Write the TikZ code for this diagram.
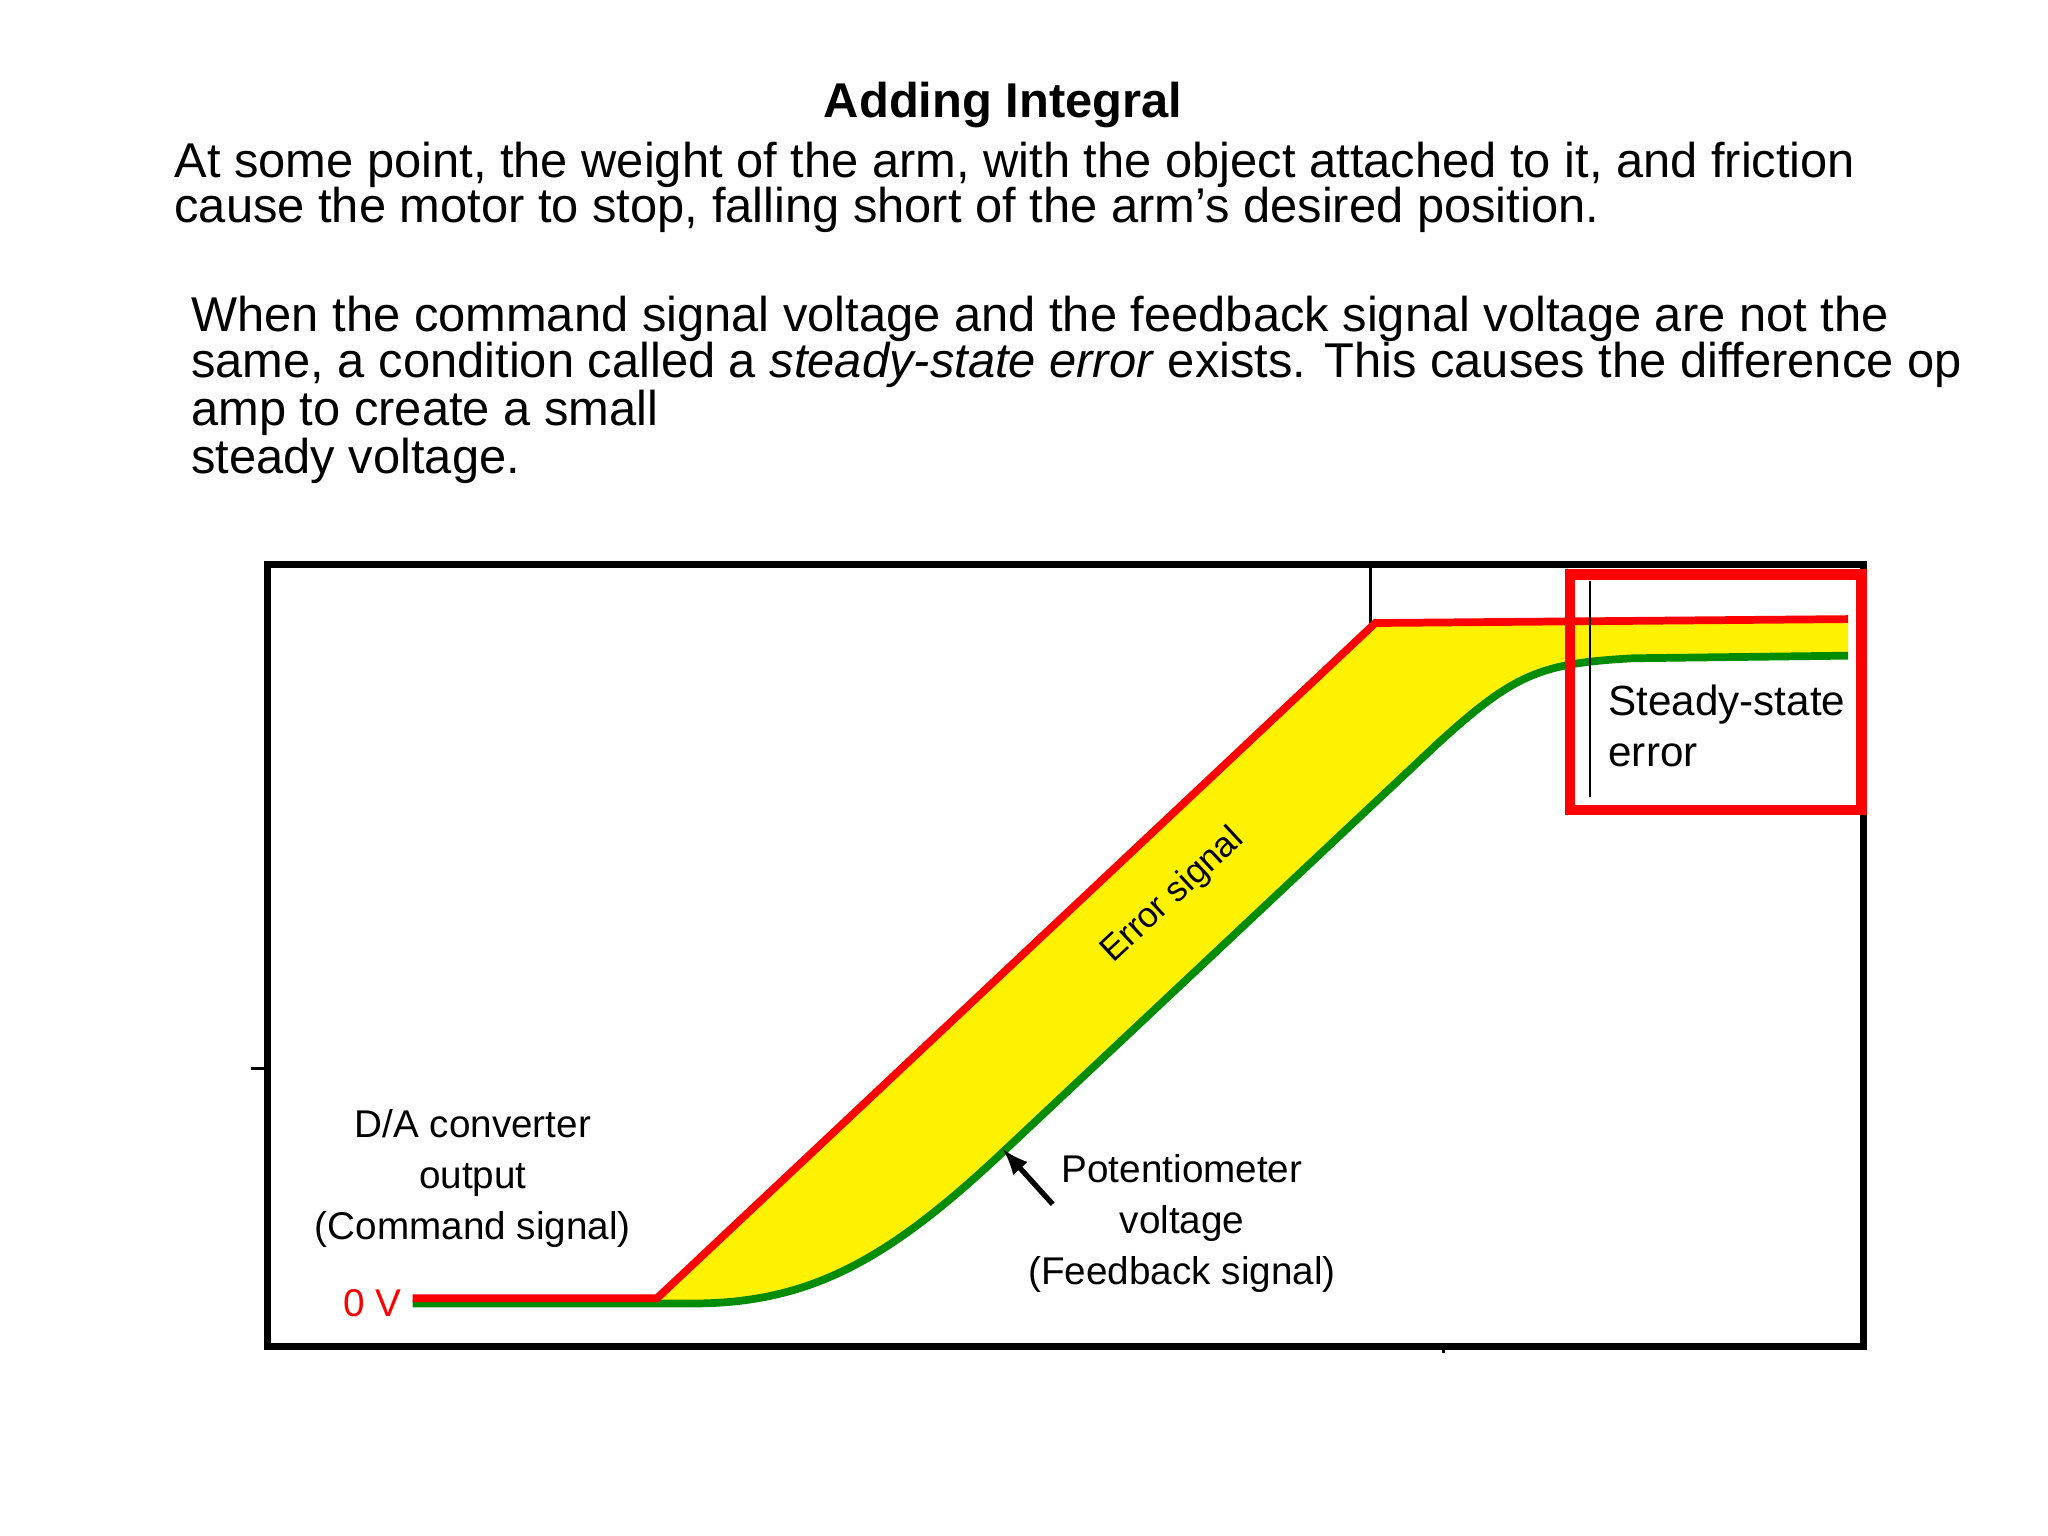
\documentclass[tikz,border=0pt]{standalone}
\usepackage{fontspec}
\setmainfont{Liberation Sans}
\begin{document}
\begin{tikzpicture}[x=0.01306cm,y=-0.01306cm,
  body/.style={anchor=west,inner sep=0pt,font=\fontsize{13.9}{14}\selectfont},
  lab/.style={inner sep=0pt,font=\fontsize{11}{14.5}\selectfont,align=center}]
\useasboundingbox (0,0) rectangle (1568,1176);
\fill[white] (0,0) rectangle (1568,1176);
\node[inner sep=0pt,font=\bfseries\fontsize{13.9}{14}\selectfont] (title) at (768,80) {Adding Integral};
\node[body] (p1) at (133,126) {At some point, the weight of the arm, with the object attached to it, and friction};
\node[body] (p2) at (133,161) {cause the motor to stop, falling short of the arm’s desired position.};
\node[body] (p3) at (146,244) {When the command signal voltage and the feedback signal voltage are not the};
\node[body] (p4) at (146,279) {same, a condition called a \textit{steady-state error} exists. This causes the difference op};
\node[body] (p5) at (146,316) {amp to create a small};
\node[body] (p6) at (146,353) {steady voltage.};
% yellow area
\fill[yellow] (503,994) -- (1053,477) -- (1415,474) -- (1415,502) -- (1250,504)
  .. controls (1180,508) and (1160,515) .. (1100,570) -- (770,880)
  .. controls (680,965) and (620,998) .. (530,998) -- (503,998) -- cycle;
% frame
\draw[line width=2pt] (205,432) rectangle (1427,1031);
\draw[line width=0.8pt] (1049,432) -- (1049,478);
\draw[line width=0.8pt] (192,818) -- (205,818);
\draw[line width=0.8pt] (1105,1031) -- (1105,1036);
% green feedback
\draw[green!55!black,line width=2.2pt] (316,998) -- (530,998)
  .. controls (620,998) and (680,965) .. (770,880) -- (1100,570)
  .. controls (1160,515) and (1180,508) .. (1250,504) -- (1415,502);
% red command
\draw[red,line width=2.2pt] (316,994) -- (503,994) -- (1053,477) -- (1415,474);
% red box
\draw[red,line width=3pt] (1202,440) rectangle (1425,620);
\draw[line width=0.6pt] (1217,445) -- (1217,610);
\node[lab,align=left,anchor=west,font=\fontsize{12}{14.5}\selectfont] (sse) at (1231,556) {Steady-state\\error};
\node[lab,rotate=43,font=\fontsize{10}{12}\selectfont] (err) at (898,686) {Error signal};
\node[lab] (da) at (362,902) {D/A converter\\output\\(Command signal)};
\node[lab,text=red,anchor=east] (zero) at (308,998) {0 V};
\node[lab] (pot) at (905,937) {Potentiometer\\voltage\\(Feedback signal)};
\coordinate (tip) at (768,880);
\draw[line width=1.5pt,-latex] (806,922) -- (tip);
\end{tikzpicture}
\end{document}
